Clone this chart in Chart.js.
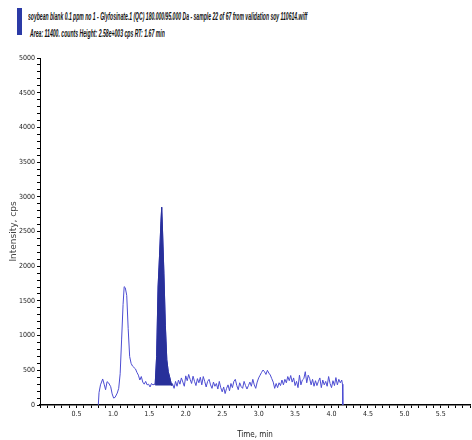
<!DOCTYPE html>
<html>
<head>
<meta charset="utf-8">
<script src="https://cdn.jsdelivr.net/npm/chart.js@4.4.0/dist/chart.umd.min.js"></script>
<style>
  body { margin: 0; background: #fff; }
  #wrap { position: relative; width: 472px; height: 440px; overflow: hidden; }
  #bar { position: absolute; left: 17px; top: 8px; width: 5px; height: 27px; background: #2b3aa6; }
  .titel { position: absolute; white-space: nowrap; font: italic 900 10px "Liberation Sans", Arial, sans-serif;
           color: #111; transform-origin: 0 50%; }
  #t1 { left: 28px; top: 11px; }
  #t2 { left: 30px; top: 28px; }
  #grafik { position: absolute; left: 0; top: 0; }
</style>
</head>
<body>
<div id="wrap">
  <div id="bar"></div>
  <div class="titel" id="t1" data-w="279">soybean blank 0.1 ppm no 1 - Glyfosinate.1 (QC) 180.000/95.000 Da - sample 22 of 67 from validation soy 110614.wiff</div>
  <div class="titel" id="t2" data-w="135">Area: 11400. counts Height: 2.58e+003 cps RT: 1.67 min</div>
  <canvas id="grafik" width="472" height="440"></canvas>
</div>
<script>
// Kromatogram verisi (okunan değerler)
const zaman = [
  0.80, 0.81, 0.83, 0.86, 0.88, 0.90, 0.92, 0.94, 0.97, 0.99,
  1.01, 1.03, 1.06, 1.08, 1.10, 1.12, 1.14, 1.155, 1.17, 1.19,
  1.21, 1.23, 1.25, 1.27, 1.29, 1.31, 1.33, 1.35, 1.37, 1.39,
  1.41, 1.43, 1.45, 1.47, 1.49, 1.51, 1.53, 1.55, 1.57,
  1.58, 1.60, 1.62, 1.64, 1.66, 1.67, 1.68, 1.70, 1.72, 1.74, 1.76, 1.78, 1.80,
  1.82, 1.84, 1.86, 1.88, 1.90, 1.92, 1.94, 1.96, 1.98, 2.00,
  2.02, 2.04, 2.06, 2.08, 2.10, 2.12, 2.14, 2.16, 2.18, 2.20,
  2.22, 2.24, 2.26, 2.28, 2.30, 2.32, 2.34, 2.36, 2.38, 2.40,
  2.42, 2.44, 2.46, 2.48, 2.50, 2.52, 2.54, 2.56, 2.58, 2.60,
  2.62, 2.64, 2.66, 2.68, 2.70, 2.72, 2.74, 2.76, 2.78, 2.80,
  2.82, 2.84, 2.86, 2.88, 2.90, 2.92, 2.94, 2.96, 2.98, 3.00,
  3.02, 3.04, 3.06, 3.08, 3.10, 3.12, 3.14, 3.16, 3.18, 3.20,
  3.22, 3.24, 3.26, 3.28, 3.30, 3.32, 3.34, 3.36, 3.38, 3.40,
  3.42, 3.44, 3.46, 3.48, 3.50, 3.52, 3.54, 3.56, 3.58, 3.60,
  3.62, 3.64, 3.66, 3.68, 3.70, 3.72, 3.74, 3.76, 3.78, 3.80,
  3.82, 3.84, 3.86, 3.88, 3.90, 3.92, 3.94, 3.96, 3.98, 4.00,
  4.02, 4.04, 4.06, 4.08, 4.10, 4.12, 4.14, 4.15, 4.155
];
const yogunluk = [
  0, 180, 290, 375, 300, 220, 336, 320, 264, 160,
  100, 110, 172, 240, 450, 950, 1450, 1705, 1690, 1580,
  1100, 700, 600, 560, 540, 520, 470, 430, 360, 410,
  330, 300, 340, 290, 300, 260, 310, 290, 300,
  290, 700, 1700, 2150, 2650, 2850, 2550, 1900, 1150, 650, 480, 400, 310,
  300, 240, 340, 270, 360, 300, 390, 330, 270, 420,
  350, 440, 370, 310, 415, 340, 280, 380, 320, 400,
  290, 410, 340, 260, 340, 370, 290, 240, 330, 270,
  310, 230, 340, 250, 190, 260, 165, 240, 290, 205,
  310, 250, 340, 370, 280, 220, 320, 265, 240, 340,
  280, 230, 280, 330, 270, 370, 290, 240, 330, 390,
  430, 470, 504, 480, 440, 500, 460, 432, 380, 330,
  240, 310, 250, 320, 280, 360, 290, 370, 320, 410,
  350, 425, 330, 390, 280, 340, 250, 430, 290, 360,
  380, 480, 320, 430, 380, 290, 370, 270, 350, 280,
  340, 390, 250, 360, 290, 340, 270, 410, 310, 250,
  350, 280, 395, 290, 370, 320, 360, 300, 0
];

// Entegre edilen pik (dolgulu alan)
const pikZaman = [1.58, 1.60, 1.62, 1.64, 1.66, 1.67, 1.68, 1.70, 1.72, 1.74, 1.76, 1.78, 1.80, 1.81];
const pikYogunluk = [290, 700, 1700, 2150, 2650, 2850, 2550, 1900, 1150, 650, 480, 400, 310, 280];
const pikTaban = 280;

// Eksen etiketleri
const xEtiketleri = ['0.5', '1.0', '1.5', '2.0', '2.5', '3.0', '3.5', '4.0', '4.5', '5.0', '5.5'];
const yEtiketleri = ['0', '500', '1000', '1500', '2000', '2500', '3000', '3500', '4000', '4500', '5000'];

const izRengi = '#4c4cd2';
const dolguRengi = '#28309a';
const tikFontu = { family: '"Liberation Sans Narrow", "DejaVu Sans Condensed", "Liberation Sans", sans-serif', size: 7 };

// başlıkları yatayda sıkıştır
document.querySelectorAll('.titel').forEach(el => {
  const hedef = parseFloat(el.dataset.w);
  el.style.transform = `scaleX(${hedef / el.scrollWidth})`;
});

const izVerisi = zaman.map((t, i) => ({ x: t, y: yogunluk[i] }));
const pikVerisi = pikZaman.map((t, i) => ({ x: t, y: pikYogunluk[i] }));

new Chart(document.getElementById('grafik'), {
  type: 'line',
  data: {
    datasets: [
      {
        data: izVerisi,
        borderColor: izRengi,
        borderWidth: 1,
        pointRadius: 0,
        tension: 0,
        fill: false,
        order: 2
      },
      {
        data: pikVerisi,
        borderColor: dolguRengi,
        backgroundColor: dolguRengi,
        borderWidth: 1,
        pointRadius: 0,
        tension: 0,
        fill: { value: pikTaban },
        order: 1
      }
    ]
  },
  options: {
    responsive: false,
    animation: false,
    layout: { padding: { top: 58, right: 0, left: 0, bottom: 0 } },
    plugins: { legend: { display: false }, tooltip: { enabled: false } },
    scales: {
      x: {
        type: 'linear',
        min: 0,
        max: 5.9,
        afterFit: s => { s.height = 35; },
        afterBuildTicks: s => {
          const tk = [];
          for (let i = 0; i <= 59; i++) tk.push({ value: i / 10 });
          s.ticks = tk;
        },
        ticks: {
          autoSkip: false,
          maxRotation: 0,
          padding: 2,
          color: '#222',
          font: tikFontu,
          callback: v => {
            const e = (Math.round(v * 10) / 10).toFixed(1);
            return xEtiketleri.includes(e) ? e : '';
          }
        },
        grid: { drawOnChartArea: false, drawTicks: true, tickLength: 3, color: '#000' },
        border: { display: true, color: '#000', width: 1.5 },
        title: { display: true, text: 'Time, min', color: '#222', font: { family: tikFontu.family, size: 8 }, padding: { top: 2, bottom: 0 } }
      },
      y: {
        type: 'linear',
        min: 0,
        max: 5000,
        afterFit: s => { s.width = 40; },
        ticks: {
          stepSize: 100,
          autoSkip: false,
          padding: 2,
          color: '#222',
          font: tikFontu,
          callback: v => yEtiketleri.includes(String(v)) ? String(v) : ''
        },
        grid: { drawOnChartArea: false, drawTicks: true, tickLength: 3, color: '#000' },
        border: { display: true, color: '#000', width: 1 },
        title: { display: true, text: 'Intensity, cps', color: '#444', font: { family: '"DejaVu Sans", sans-serif', size: 9 }, padding: { top: 8, bottom: 0 } }
      }
    }
  }
});
</script>
</body>
</html>
